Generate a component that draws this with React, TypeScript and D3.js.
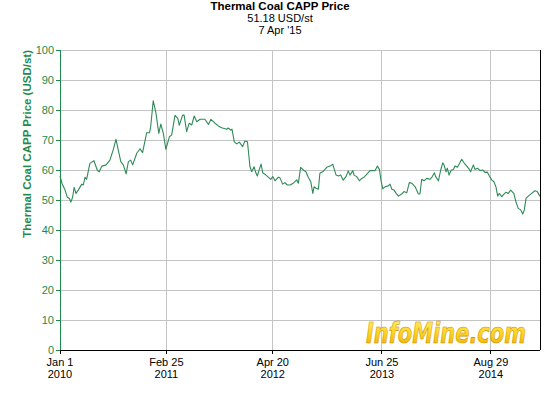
import React from "react";
import * as d3 from "d3";

const dates: string[] = [
  "2010-01-01","2010-01-09","2010-01-21","2010-01-30","2010-02-07","2010-02-13","2010-02-20","2010-02-26","2010-03-05","2010-03-14",
  "2010-03-28","2010-04-03","2010-04-10","2010-04-16","2010-04-29","2010-05-15","2010-05-28","2010-06-05","2010-06-15","2010-07-02",
  "2010-07-17","2010-07-30","2010-08-10","2010-08-19","2010-08-29","2010-09-08","2010-09-19","2010-09-28","2010-10-07","2010-10-15",
  "2010-10-31","2010-11-13","2010-11-23","2010-12-09","2010-12-20","2010-12-25","2011-01-04","2011-01-15","2011-01-26","2011-02-03",
  "2011-02-13","2011-02-23","2011-03-09","2011-03-18","2011-03-31","2011-04-11","2011-04-17","2011-04-30","2011-05-06","2011-05-16",
  "2011-05-26","2011-06-05","2011-06-15","2011-06-25","2011-07-08","2011-07-27","2011-08-10","2011-08-20","2011-09-05","2011-09-18",
  "2011-10-01","2011-10-21","2011-10-27","2011-11-06","2011-11-11","2011-11-20","2011-11-30","2011-12-10","2011-12-15","2011-12-23",
  "2012-01-01","2012-01-11","2012-01-21","2012-01-28","2012-02-06","2012-02-14","2012-02-19","2012-02-27","2012-03-05","2012-03-11",
  "2012-03-20","2012-04-02","2012-04-12","2012-04-20","2012-04-29","2012-05-12","2012-05-19","2012-05-29","2012-06-07","2012-06-16",
  "2012-06-27","2012-07-10","2012-07-24","2012-07-30","2012-08-08","2012-08-19","2012-08-29","2012-09-07","2012-09-17","2012-09-25",
  "2012-09-30","2012-10-08","2012-10-17","2012-10-23","2012-11-03","2012-11-12","2012-11-19","2012-12-02","2012-12-13","2012-12-26",
  "2013-01-04","2013-01-13","2013-01-23","2013-02-03","2013-02-12","2013-02-19","2013-03-02","2013-03-07","2013-03-17","2013-03-28",
  "2013-04-06","2013-04-15","2013-04-23","2013-05-09","2013-05-29","2013-06-07","2013-06-15","2013-06-21","2013-06-28","2013-07-07",
  "2013-07-20","2013-07-27","2013-08-03","2013-08-12","2013-08-20","2013-08-29","2013-09-11","2013-09-20","2013-10-01","2013-10-11",
  "2013-10-21","2013-11-03","2013-11-16","2013-11-22","2013-11-29","2013-12-08","2013-12-19","2014-01-01","2014-01-10","2014-01-18",
  "2014-01-23","2014-02-03","2014-02-12","2014-02-20","2014-02-25","2014-03-05","2014-03-10","2014-03-17","2014-03-25","2014-04-03",
  "2014-04-09","2014-04-19","2014-04-26","2014-05-06","2014-05-15","2014-05-26","2014-06-05","2014-06-10","2014-06-21","2014-06-27",
  "2014-07-07","2014-07-17","2014-07-28","2014-08-06","2014-08-15","2014-08-23","2014-09-01","2014-09-10","2014-09-18","2014-09-25",
  "2014-10-01","2014-10-11","2014-10-17","2014-10-28","2014-11-06","2014-11-15","2014-11-23","2014-11-28","2014-12-06","2014-12-15",
  "2014-12-25","2015-01-02","2015-01-08","2015-01-15","2015-01-24","2015-02-06","2015-02-19","2015-02-28","2015-03-11"
];

const prices: number[] = [
  58.0,55.5,53.3,50.9,50.5,49.3,51.0,54.2,52.2,53.3,
  55.3,55.0,57.6,56.9,62.2,63.1,60.0,59.4,61.3,61.7,
  63.3,66.7,70.2,66.7,62.8,61.7,58.7,62.8,63.3,61.7,
  65.6,67.1,65.8,72.4,72.4,74.4,83.1,78.9,72.2,75.3,
  72.2,66.9,71.1,71.7,78.2,77.2,74.9,78.3,78.3,72.8,
  75.6,75.0,78.0,76.1,76.9,76.9,75.2,76.9,75.6,74.7,
  74.1,73.6,74.0,73.3,73.6,69.4,68.7,69.3,68.7,67.8,
  69.7,69.4,61.1,59.4,61.1,58.9,58.0,60.2,62.0,59.1,
  58.6,57.6,56.9,57.8,56.4,57.6,57.3,55.3,55.8,55.0,
  55.0,55.6,56.7,55.6,60.9,60.0,59.4,57.6,56.1,52.2,
  54.4,53.9,53.6,58.9,59.4,60.2,60.9,61.3,61.9,58.3,
  58.0,58.3,56.6,57.8,59.7,58.3,59.8,58.3,57.8,56.4,
  57.2,57.6,58.3,59.8,59.8,61.3,60.2,56.7,53.7,54.4,
  54.7,55.3,53.6,53.3,52.2,51.3,52.0,52.8,52.4,55.8,
  55.6,54.4,52.0,52.0,56.9,56.4,57.2,56.9,57.8,59.1,
  57.8,56.4,60.0,62.4,61.7,59.4,60.6,58.3,59.9,60.2,
  61.3,60.9,62.0,63.6,62.4,61.3,60.2,59.4,61.7,60.2,
  60.6,59.8,60.0,59.2,59.3,58.0,56.7,56.1,54.4,51.3,
  52.2,51.1,51.7,52.6,52.2,53.3,52.6,52.1,49.4,47.2,
  46.7,45.3,46.7,50.6,51.3,52.2,53.1,52.8,51.2
];

const xDomain: string[] = ["2010-01-01", "2015-03-11"];
const xTickDates: string[] = ["2010-01-01", "2011-02-25", "2012-04-20", "2013-06-25", "2014-08-29"];
const xTickDayLabels: string[] = ["Jan 1", "Feb 25", "Apr 20", "Jun 25", "Aug 29"];
const xTickYearLabels: string[] = ["2010", "2011", "2012", "2013", "2014"];
const yTicks: number[] = [0, 10, 20, 30, 40, 50, 60, 70, 80, 90, 100];

const titleLines: string[] = ["Thermal Coal CAPP Price", "51.18 USD/st", "7 Apr '15"];
const yAxisTitle = "Thermal Coal CAPP Price (USD/st)";

export default function App() {
  const W = 560, H = 400;
  const L = 60, R = 540, T = 50, B = 350;
  const parse = d3.timeParse("%Y-%m-%d");
  const x = d3.scaleTime().domain(xDomain.map((d) => parse(d) as Date)).range([L, R]);
  const y = d3.scaleLinear().domain([0, 100]).range([B, T]);
  const pts = dates.map((d, i) => ({ d: parse(d) as Date, v: prices[i] }));
  const line = d3.line<{ d: Date; v: number }>().x((p) => x(p.d)).y((p) => y(p.v));
  const green = "#1e8a4c";
  const font = "'Liberation Sans', Arial, sans-serif";

  return (
    <svg width={W} height={H} style={{ position: "absolute", left: 0, top: 0, background: "#fff" }} fontFamily={font}>
      <defs>
        <linearGradient id="logoGrad" x1="0" y1="0" x2="0" y2="1">
          <stop offset="0" stopColor="#fff27a" />
          <stop offset="0.5" stopColor="#ffd21f" />
          <stop offset="1" stopColor="#e8a800" />
        </linearGradient>
      </defs>
      <rect x={0} y={0} width={W} height={H} fill="#fff" />
      {titleLines.map((t, i) => (
        <text key={t} x={280} y={10 + i * 12} textAnchor="middle" fontSize={i === 0 ? 11.5 : 11} fontWeight={i === 0 ? "bold" : "normal"} fill="#000">
          {t}
        </text>
      ))}
      {yTicks.map((v) => (
        <line key={"gy" + v} x1={L} x2={R} y1={y(v)} y2={y(v)} stroke="#c4c4c4" strokeWidth={1} shapeRendering="crispEdges" />
      ))}
      {xTickDates.map((d) => (
        <line key={"gx" + d} x1={x(parse(d) as Date)} x2={x(parse(d) as Date)} y1={T} y2={B} stroke="#c4c4c4" strokeWidth={1} shapeRendering="crispEdges" />
      ))}
      <text x={366} y={343} fontFamily="'DejaVu Sans', sans-serif" fontWeight="bold" fontStyle="italic" fontSize={28}
        textLength={160} lengthAdjust="spacingAndGlyphs" fill="url(#logoGrad)" stroke="#c78f00" strokeWidth={0.6}>
        InfoMine.com
      </text>
      <path d={line(pts) || ""} fill="none" stroke="#2e8b57" strokeWidth={1.1} strokeLinejoin="round" />
      <line x1={L} x2={R} y1={B} y2={B} stroke="#000" strokeWidth={1} shapeRendering="crispEdges" />
      <line x1={R} x2={R} y1={T} y2={B} stroke="#000" strokeWidth={1} shapeRendering="crispEdges" />
      <line x1={L} x2={L} y1={T} y2={B} stroke={green} strokeWidth={1} shapeRendering="crispEdges" />
      {yTicks.map((v) => (
        <g key={"ty" + v}>
          <line x1={L - 4} x2={L} y1={y(v)} y2={y(v)} stroke={green} strokeWidth={1} shapeRendering="crispEdges" />
          <text x={L - 6} y={y(v) + 4} textAnchor="end" fontSize={11} fill={green}>{v}</text>
        </g>
      ))}
      {xTickDates.map((d, i) => {
        const xx = x(parse(d) as Date);
        return (
          <g key={"tx" + d}>
            <line x1={xx} x2={xx} y1={B} y2={B + 4} stroke="#000" strokeWidth={1} shapeRendering="crispEdges" />
            <text x={xx} y={366} textAnchor="middle" fontSize={11} fill="#000">{xTickDayLabels[i]}</text>
            <text x={xx} y={378} textAnchor="middle" fontSize={11} fill="#000">{xTickYearLabels[i]}</text>
          </g>
        );
      })}
      <text transform="translate(31,50) rotate(-90)" textAnchor="end" fontSize={11.5} fontWeight="bold" fill={green}>
        {yAxisTitle}
      </text>
    </svg>
  );
}
